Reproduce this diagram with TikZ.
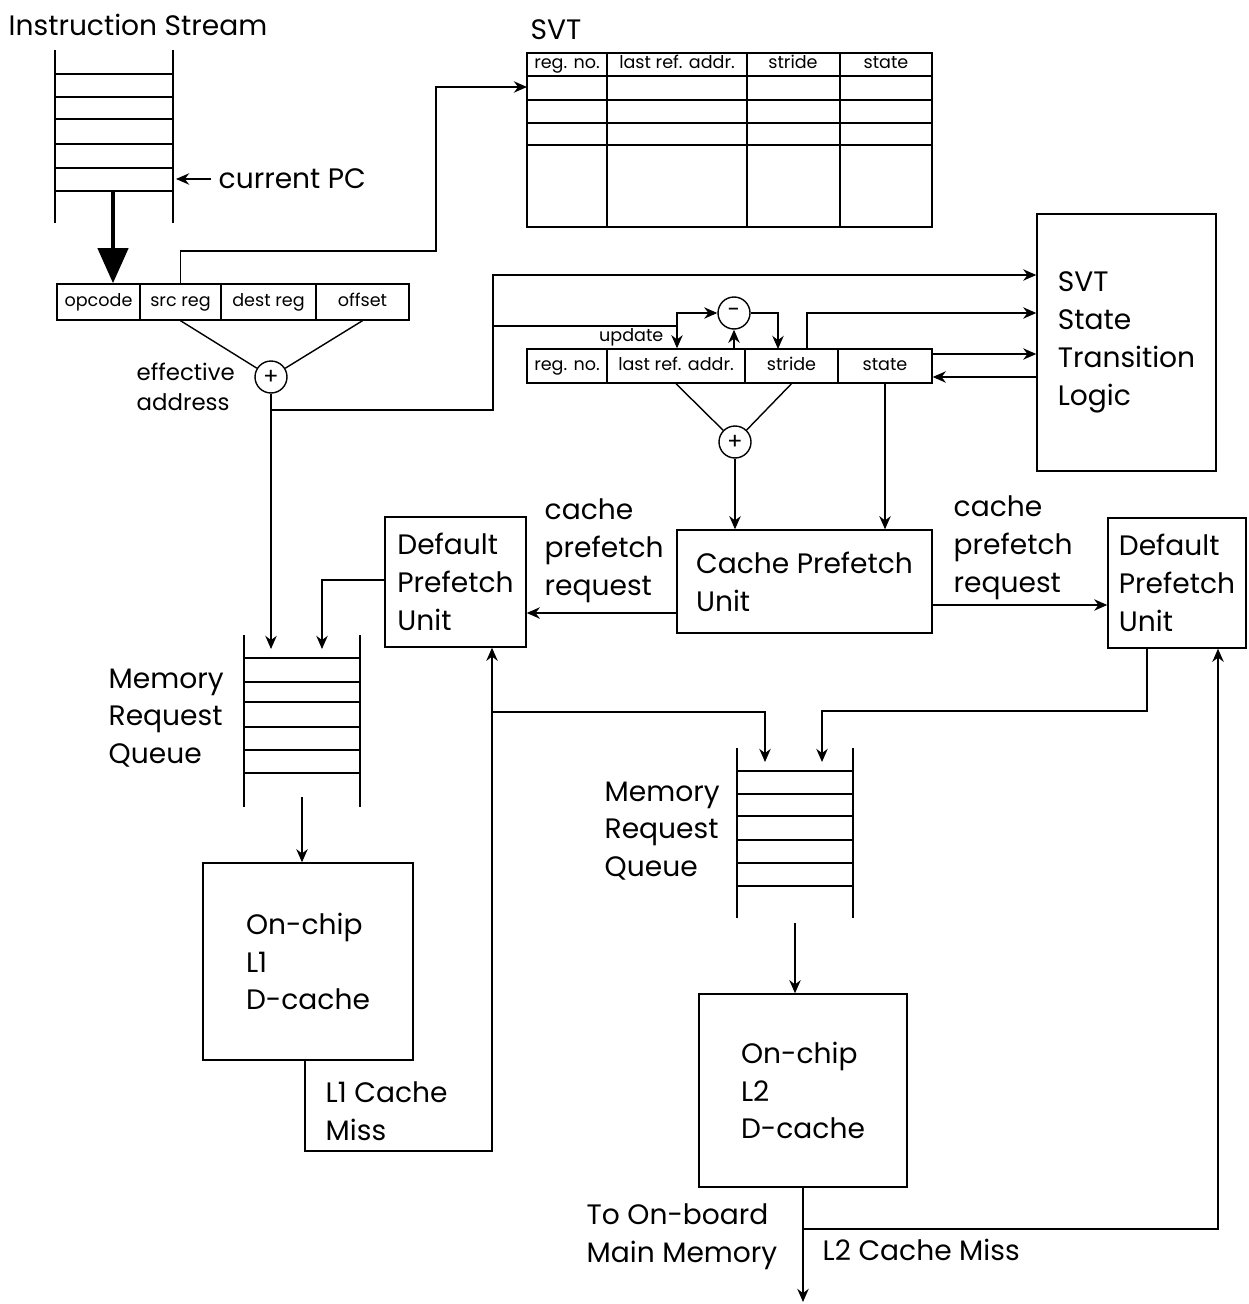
\documentclass[tikz,border=0pt]{standalone}
\usepackage{fontspec}
\setmainfont{Poppins}
\usetikzlibrary{arrows.meta}
\newcommand\figbig{\fontsize{16}{21.5}\selectfont}
\newcommand\figmid{\fontsize{13}{17.5}\selectfont}
\newcommand\figsmall{\fontsize{10}{11}\selectfont}
\tikzset{
  arr/.style={-{Stealth[length=7.5pt,width=6.5pt]}},
  cell/.style={draw, inner sep=0pt, minimum width=#1*0.02cm, font=\figsmall,
    text height=7pt, text depth=2pt},
  head/.style={font=\figsmall, inner sep=0pt, text height=7pt, text depth=2pt},
  unit/.style 2 args={draw, inner sep=0pt, align=left, font=\figbig,
    minimum width=#1*0.02cm, minimum height=#2*0.02cm},
  lbl/.style={inner sep=0pt, align=left, font=\figbig},
  adder/.style={draw, circle, inner sep=0pt, minimum size=0.64cm, font=\figmid},
}
\begin{document}
\begin{tikzpicture}[x=0.02cm,y=-0.02cm,line width=0.8pt]
\useasboundingbox (0,0) rectangle (1248,1304);

% instruction stream
\node[lbl,anchor=west] (istitle) at (8,25) {Instruction Stream};
\draw (55,50) -- (55,223) (173,50) -- (173,223);
\foreach \y in {74,97,119,144,168,191}
  \draw (55,\y) -- (173,\y);
\coordinate (isbot) at (113,191);
\coordinate (ispc) at (176,179);
\node[lbl,anchor=west,inner xsep=4pt] (pc) at (211,179) {current PC};
\draw[arr] (pc.west) -- (ispc);

% instruction fields
\node[cell=83, minimum height=0.72cm] (opc) at (98.5,302) {opcode};
\node[cell=81, minimum height=0.72cm] (src) at (180.5,302) {src reg};
\node[cell=95, minimum height=0.72cm] (dst) at (268.5,302) {dest reg};
\node[cell=93, minimum height=0.72cm] (off) at (362.5,302) {offset};
\draw[line width=2.8pt, -{Triangle[length=20pt,width=17pt]}] (isbot) -- (isbot |- opc.north);

% SVT table
\node[lbl,anchor=west] (svttitle) at (530,30) {SVT};
\draw (527,53) rectangle (932,227);
\foreach \y in {76,100,123,145}
  \draw (527,\y) -- (932,\y);
\foreach \x in {607,747,840}
  \draw (\x,53) -- (\x,227);
\node[head] (hreg) at (567,64.5) {reg. no.};
\node[head] (hlast) at (677,64.5) {last ref. addr.};
\node[head] (hstr) at (793,64.5) {stride};
\node[head] (hstate) at (886,64.5) {state};
\coordinate (svtin) at (527,87);
\draw[arr] (src.north) -- (src.north |- 0,251) -| (436,87) -- (svtin);

% effective address
\node[adder] (eadd) at (271,377) {+};
\node[lbl, anchor=west, font=\figmid] (eaddr) at (136,387) {effective\\address};
\draw (src.south) -- (eadd) (off.south) -- (eadd);

% SVT entry
\node[cell=80, minimum height=0.68cm] (ereg) at (567,366) {reg. no.};
\node[cell=138, minimum height=0.68cm] (elast) at (676,366) {last ref. addr.};
\node[cell=93, minimum height=0.68cm] (estr) at (791.5,366) {stride};
\node[cell=94, minimum height=0.68cm] (estate) at (885,366) {state};
\node[adder] (minus) at (734,313) {-};
\node[adder] (padd) at (735,442) {+};
\node[unit={179}{257}] (svtl) at (1126.5,342.5) {SVT\\State\\Transition\\Logic};

\draw[arr] (eadd.south) |- (493,410) |- (svtl.west |- 0,275);
\coordinate (upd) at (677,326);
\draw (493,326) -- (upd);
\draw[arr] (upd) -- (upd |- elast.north);
\draw[arr] (upd) |- (minus.west);
\node[head, anchor=east] (updl) at (664,337) {update};
\draw[arr] (minus.south |- elast.north) -- (minus.south);
\coordinate (strin) at (778,349);
\draw[arr] (minus.east) -| (strin);
\coordinate (strout) at (807,349);
\draw[arr] (strout) |- (svtl.west |- minus);
\draw[arr] (estate.east |- 0,354) -- (svtl.west |- 0,354);
\draw[arr] (svtl.west |- 0,377) -- (estate.east |- 0,377);
\draw (elast.south) -- (padd) (estr.south) -- (padd);

% prefetch units
\node[unit={255}{103}] (cpu) at (804.5,581.5) {Cache Prefetch\\Unit};
\node[unit={141}{130}] (dpl) at (455.5,582) {Default\\Prefetch\\Unit};
\node[unit={138}{130}] (dpr) at (1177,583) {Default\\Prefetch\\Unit};
\draw[arr] (padd.south) -- (padd.south |- cpu.north);
\draw[arr] (estate.south) -- (estate.south |- cpu.north);
\draw[arr] (cpu.west |- 0,613) -- (dpl.east |- 0,613);
\draw[arr] (cpu.east |- 0,605) -- (dpr.west |- 0,605);
\node[lbl, anchor=west] (reql) at (544,551) {cache\\prefetch\\request};
\node[lbl, anchor=west] (reqr) at (953,548) {cache\\prefetch\\request};

% memory request queue 1
\draw (244,635) -- (244,807) (360,635) -- (360,807);
\foreach \y in {658,682,702,727,750,773}
  \draw (244,\y) -- (360,\y);
\node[lbl, anchor=west] (mrq1) at (108,718) {Memory\\Request\\Queue};
\coordinate (q1a) at (271,649);
\coordinate (q1b) at (322,649);
\coordinate (q1out) at (302,797);
\draw[arr] (eadd.south) -- (q1a);
\draw[arr] (dpl.west |- 0,580) -| (q1b);

% L1
\node[unit={210}{197}] (l1) at (308,961.5) {On-chip\\L1\\D-cache};
\draw[arr] (q1out) -- (q1out |- l1.north);
\draw[arr] (l1.south -| 305,0) |- (492,1151) -- (dpl.south -| 492,0);
\node[lbl, anchor=west] (l1m) at (325,1111) {L1 Cache\\Miss};

% memory request queue 2
\draw (737,748) -- (737,918) (853,748) -- (853,918);
\foreach \y in {771,794,816,840,863,886}
  \draw (737,\y) -- (853,\y);
\node[lbl, anchor=west] (mrq2) at (604,831) {Memory\\Request\\Queue};
\coordinate (q2a) at (765,762);
\coordinate (q2b) at (822,762);
\coordinate (q2out) at (795,923);
\draw[arr] (492,712) -| (q2a);
\draw[arr] (dpr.south -| 1147,0) |- (q2b |- 0,711) -- (q2b);

% L2
\node[unit={208}{193}] (l2) at (803,1090.5) {On-chip\\L2\\D-cache};
\draw[arr] (q2out) -- (q2out |- l2.north);
\coordinate (mem) at (803,1302);
\draw[arr] (l2.south) -- (mem);
\draw[arr] (l2.south |- 0,1229) -| (dpr.south -| 1218,0);
\node[lbl, anchor=west] (tomem) at (586,1237) {To On-board\\Main Memory};
\node[lbl, anchor=west] (l2m) at (822,1250) {L2 Cache Miss};
\end{tikzpicture}
\end{document}
